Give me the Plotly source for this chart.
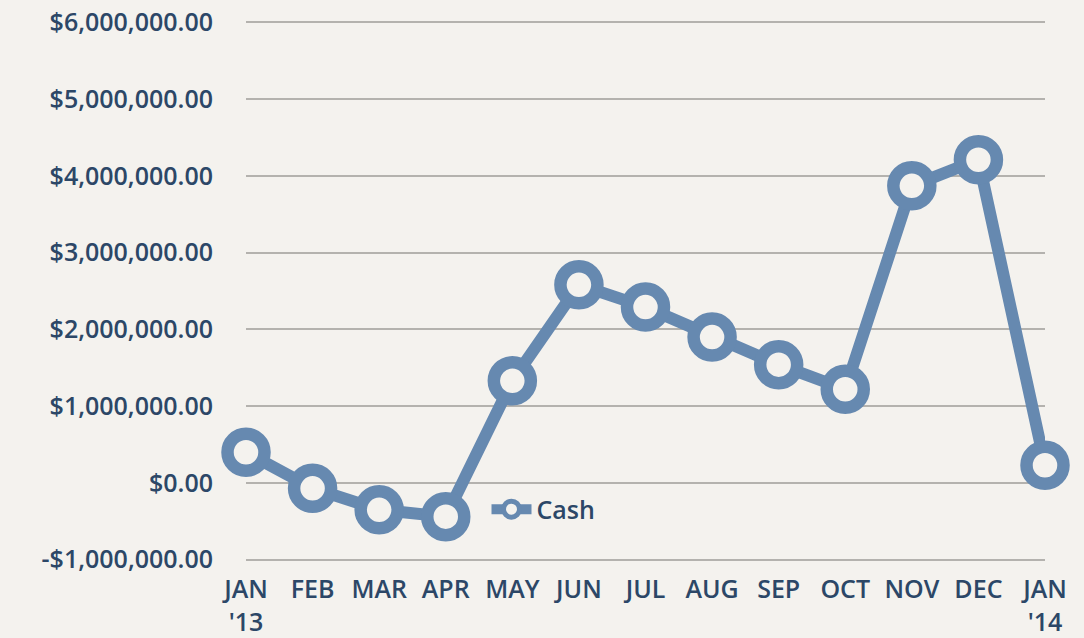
import plotly.graph_objects as go

MONTHS = ["JAN<br>'13", "FEB", "MAR", "APR", "MAY", "JUN", "JUL",
          "AUG", "SEP", "OCT", "NOV", "DEC", "JAN<br>'14"]
CASH = [400000, -70000, -350000, -440000, 1330000, 2580000, 2290000,
        1900000, 1540000, 1220000, 3870000, 4210000, 230000]
Y_TICKS = [-1000000, 0, 1000000, 2000000, 3000000, 4000000, 5000000, 6000000]
Y_LABELS = ["-$1,000,000.00", "$0.00", "$1,000,000.00", "$2,000,000.00",
            "$3,000,000.00", "$4,000,000.00", "$5,000,000.00", "$6,000,000.00"]

BG = "#f4f2ee"
BLUE = "#6689b0"
NAVY = "#2c4767"
FONT = "Open Sans"

x_idx = list(range(len(MONTHS)))

fig = go.Figure()
fig.add_trace(go.Scatter(
    x=x_idx,
    y=CASH,
    mode="lines+markers",
    name="Cash",
    cliponaxis=False,
    line=dict(color=BLUE, width=12),
    marker=dict(size=37, color=BG, line=dict(color=BLUE, width=12.5)),
))

fig.update_layout(
    width=1084,
    height=638,
    paper_bgcolor=BG,
    plot_bgcolor=BG,
    # y range padded slightly so the top/bottom gridlines still get drawn
    margin=dict(l=246, r=39, t=20, b=76),
    font=dict(family=FONT, size=25, color=NAVY, weight=600),
    showlegend=True,
    legend=dict(
        x=0.301, y=0.097, xanchor="left", yanchor="middle",
        bgcolor="rgba(0,0,0,0)",
        itemwidth=40,
        font=dict(family=FONT, size=25, color=NAVY, weight=600),
    ),
    xaxis=dict(
        range=[0, 12],
        tickmode="array",
        tickvals=x_idx,
        ticktext=MONTHS,
        showgrid=False,
        zeroline=False,
        showline=False,
        ticks="",
        ticklabelstandoff=10,
        automargin=False,
        fixedrange=True,
    ),
    yaxis=dict(
        range=[-1030000, 6030000],
        tickmode="array",
        tickvals=Y_TICKS,
        ticktext=Y_LABELS,
        showgrid=True,
        gridcolor="#b4b2ae",
        gridwidth=2,
        zeroline=False,
        showline=False,
        ticks="",
        ticklabelstandoff=32,
        automargin=False,
        fixedrange=True,
    ),
)

fig.write_html(
    "out.html",
    config={"displayModeBar": False},
    post_script="document.body.style.margin='0';"
                "document.body.style.background='%s';" % BG,
)
